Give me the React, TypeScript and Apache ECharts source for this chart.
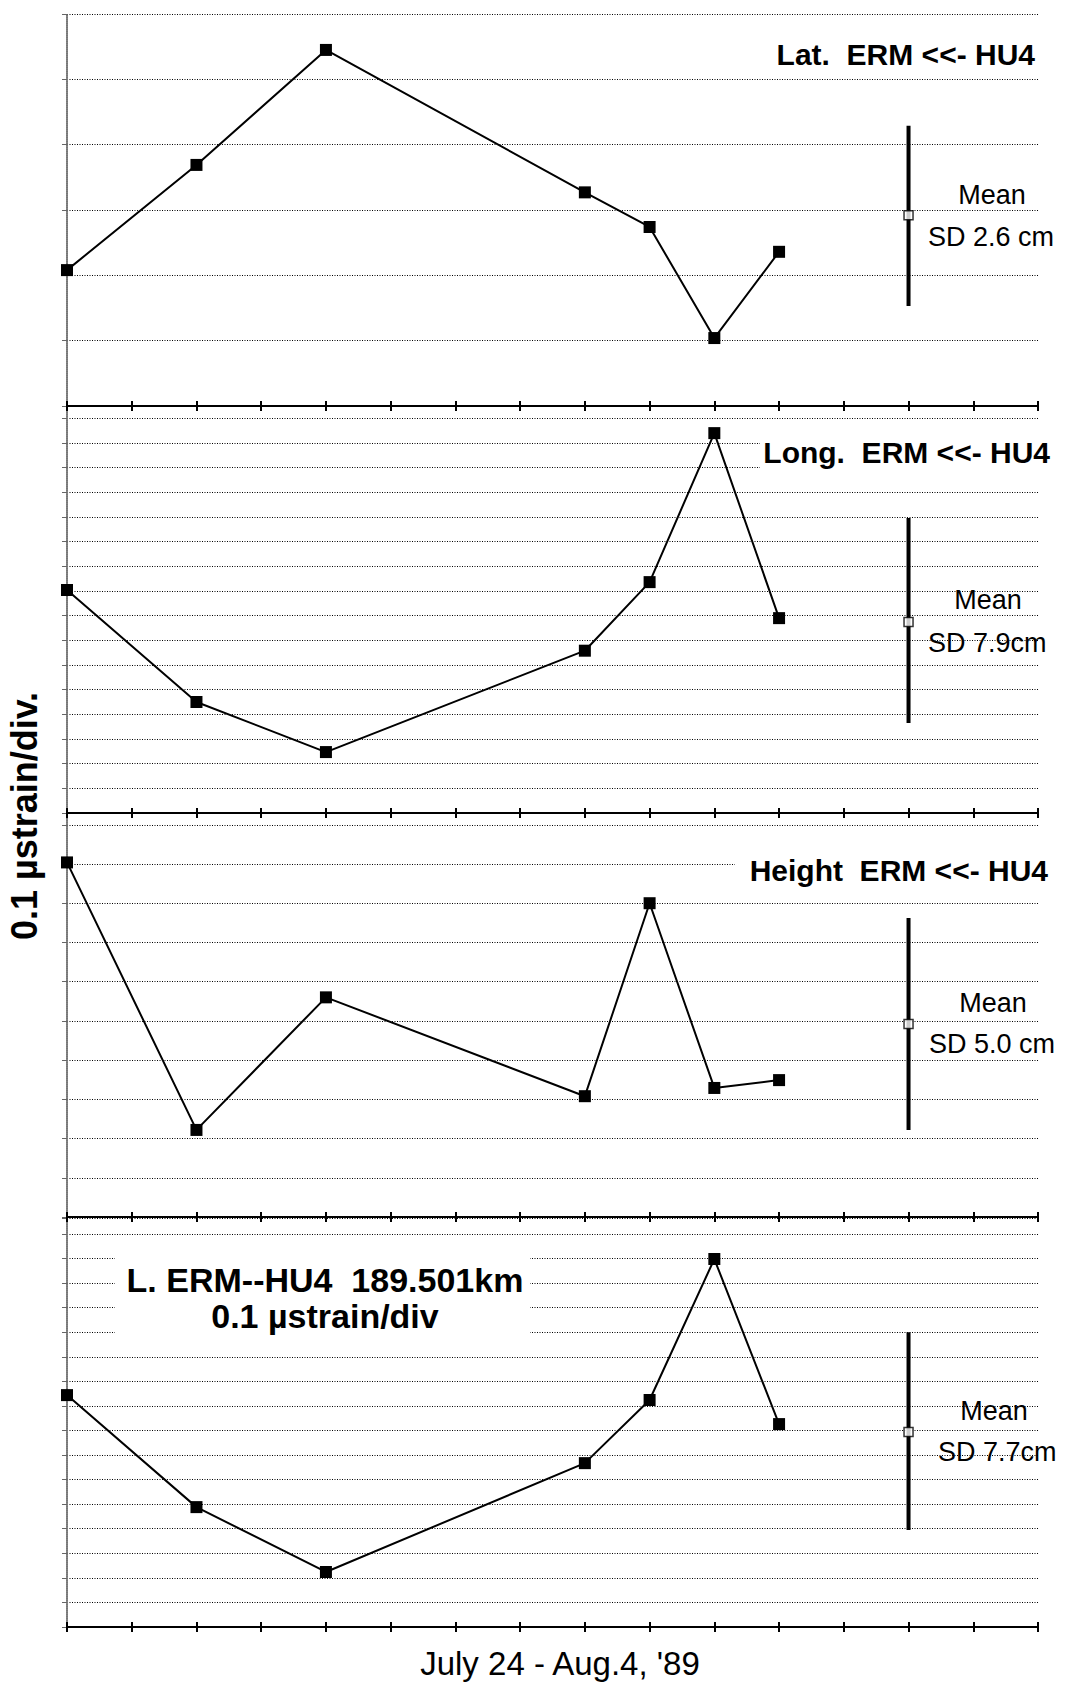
import React, { useEffect, useRef } from "react";
import * as echarts from "echarts";

// ---- data ----
const xPositions = [0, 2, 4, 8, 9, 10, 11];
const latValues = [2.08, 3.69, 5.45, 3.27, 2.74, 1.04, 2.36];
const longValues = [9.04, 4.5, 2.47, 6.58, 9.36, 15.4, 7.9];
const heightValues = [9.04, 2.22, 5.6, 3.08, 8.0, 3.29, 3.49];
const lengthValues = [9.44, 4.88, 2.24, 6.67, 9.24, 14.98, 8.26];
const meanX = 13;
const means = [2.92, 7.74, 4.92, 7.94];
const sdLow = [1.53, 3.65, 2.22, 3.95];
const sdHigh = [4.29, 11.96, 7.62, 12.0];
const axisMax = [6, 16.5, 10.3, 16.65];
const xMax = 15;
const titles = ["Lat.  ERM <<- HU4", "Long.  ERM <<- HU4", "Height  ERM <<- HU4"];
const meanLabel = "Mean";
const sdLabels = ["SD 2.6 cm", "SD 7.9cm", "SD 5.0 cm", "SD 7.7cm"];
const lengthTitle = ["L. ERM--HU4  189.501km", "0.1 µstrain/div"];
const yAxisTitle = "0.1 µstrain/div.";
const xAxisTitle = "July 24 - Aug.4, '89";

const panelSeries = [latValues, longValues, heightValues, lengthValues];

// ---- layout ----
const W = 1065;
const H = 1683;
const gridLeft = 67;
const gridRight = 27;
const gridTops = [14, 406, 813, 1218];
const gridHeights = [392, 407, 404, 409];
const titlePos = [
  [1035, 54],
  [1050, 452],
  [1048, 870],
];
const meanPos = [
  [992, 195],
  [988, 600],
  [993, 1003],
  [994, 1411],
];
const sdPos = [
  [928, 237],
  [928, 643],
  [929, 1044],
  [938, 1452],
];

const FONT = '"Liberation Sans", Arial, sans-serif';

function textEl(text: string, x: number, y: number, font: string, align: string, rotation = 0) {
  return {
    type: "text",
    x,
    y,
    rotation,
    z: 100,
    style: {
      text,
      font,
      fill: "#000",
      align,
      verticalAlign: "middle",
      textAlign: align,
      textVerticalAlign: "middle",
    },
  };
}

export default function App() {
  const ref = useRef<HTMLDivElement>(null);

  useEffect(() => {
    if (!ref.current) return;
    const chart = echarts.init(ref.current, undefined, { renderer: "svg" });

    const grids: any[] = [];
    const xAxes: any[] = [];
    const yAxes: any[] = [];
    const series: any[] = [];

    for (let i = 0; i < 4; i++) {
      grids.push({
        left: gridLeft,
        right: gridRight,
        top: gridTops[i],
        height: gridHeights[i],
        containLabel: false,
      });
      const baseX = {
        type: "value",
        gridIndex: i,
        min: 0,
        max: xMax,
        interval: 1,
        position: "bottom",
        axisLabel: { show: false },
        splitLine: { show: false },
      };
      xAxes.push({
        ...baseX,
        axisLine: { show: true, onZero: false, lineStyle: { color: "#000", width: 2 } },
        axisTick: { show: true, inside: false, length: 5, lineStyle: { color: "#000", width: 2 } },
      });
      xAxes.push({
        ...baseX,
        axisLine: { show: false, onZero: false },
        axisTick: { show: true, inside: true, length: 5, lineStyle: { color: "#000", width: 2 } },
      });
      yAxes.push({
        type: "value",
        gridIndex: i,
        min: 0,
        max: axisMax[i],
        interval: 1,
        axisLabel: { show: false },
        axisLine: { show: true, lineStyle: { color: "#777", width: 2, type: [1, 1] } },
        axisTick: { show: true, length: 5, lineStyle: { color: "#666", width: 1 } },
        splitLine: { show: true, lineStyle: { color: "#000", width: 1, type: [1, 1.5] } },
      });

      series.push({
        type: "line",
        xAxisIndex: 2 * i,
        yAxisIndex: i,
        data: xPositions.map((x, k) => [x, panelSeries[i][k]]),
        symbol: "rect",
        symbolSize: 12,
        showSymbol: true,
        itemStyle: { color: "#000" },
        lineStyle: { color: "#000", width: 2 },
        z: 5,
      });
      series.push({
        type: "line",
        xAxisIndex: 2 * i,
        yAxisIndex: i,
        data: [
          [meanX, sdLow[i]],
          [meanX, sdHigh[i]],
        ],
        symbol: "none",
        lineStyle: { color: "#000", width: 4 },
        z: 5,
      });
      series.push({
        type: "scatter",
        xAxisIndex: 2 * i,
        yAxisIndex: i,
        data: [[meanX, means[i]]],
        symbol: "rect",
        symbolSize: 9,
        itemStyle: { color: "#fff", borderColor: "#000", borderWidth: 1.5 },
        z: 6,
      });
    }

    const graphics: any[] = [
      // white patches behind titles
      { type: "rect", z: 1, shape: { x: 760, y: 428, width: 300, height: 50 }, style: { fill: "#fff" } },
      { type: "rect", z: 1, shape: { x: 735, y: 850, width: 325, height: 44 }, style: { fill: "#fff" } },
      { type: "rect", z: 1, shape: { x: 115, y: 1248, width: 415, height: 94 }, style: { fill: "#fff" } },
    ];
    for (let i = 0; i < 3; i++) {
      graphics.push(textEl(titles[i], titlePos[i][0], titlePos[i][1], `bold 30px ${FONT}`, "right"));
    }
    for (let i = 0; i < 4; i++) {
      graphics.push(textEl(meanLabel, meanPos[i][0], meanPos[i][1], `27px ${FONT}`, "center"));
      graphics.push(textEl(sdLabels[i], sdPos[i][0], sdPos[i][1], `27px ${FONT}`, "left"));
    }
    graphics.push(textEl(lengthTitle[0], 325, 1280, `bold 34px ${FONT}`, "center"));
    graphics.push(textEl(lengthTitle[1], 325, 1316, `bold 34px ${FONT}`, "center"));
    graphics.push(textEl(yAxisTitle, 24, 816, `bold 36px ${FONT}`, "center", Math.PI / 2));
    graphics.push(textEl(xAxisTitle, 560, 1663, `33px ${FONT}`, "center"));

    chart.setOption({
      animation: false,
      backgroundColor: "#fff",
      grid: grids,
      xAxis: xAxes,
      yAxis: yAxes,
      series,
      graphic: graphics,
    });

    return () => chart.dispose();
  }, []);

  return (
    <div
      ref={ref}
      style={{ position: "absolute", left: 0, top: 0, width: W, height: H }}
    />
  );
}
